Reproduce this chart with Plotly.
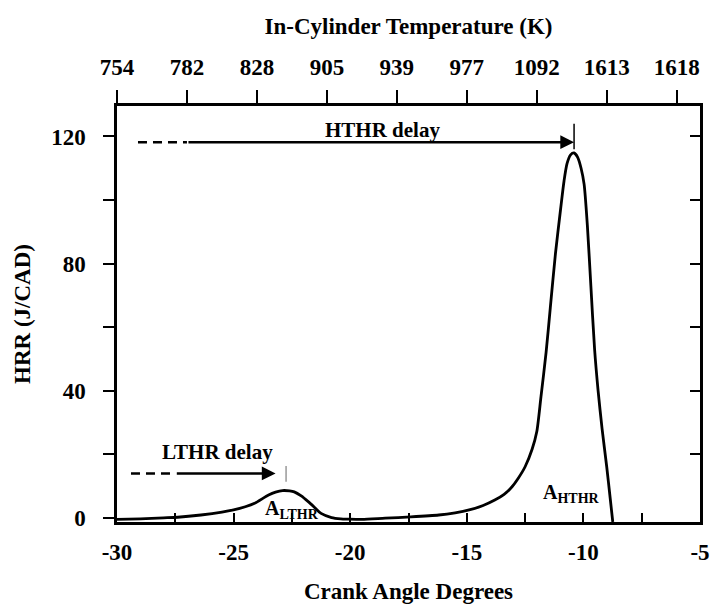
import plotly.graph_objects as go

# Heat release rate curve
cad = [-30, -29, -28, -27.4, -26.4, -25.5, -25, -24.5, -24.1, -23.5, -23.2, -22.9,
       -22.6, -22.4, -22.1, -21.8, -21.5, -21.25, -20.8, -20.4, -20.1, -19.5, -18.5,
       -17.4, -16.2, -15.5, -14.9, -14.3, -13.8, -13.4, -13.06, -12.8, -12.5, -12.2,
       -12.0, -11.82, -11.6, -11.42, -11.2, -10.98, -10.83, -10.7, -10.55, -10.4,
       -10.25, -10.1, -9.97, -9.83, -9.68, -9.52, -9.37, -9.2, -9.0, -8.85, -8.74]
hrr = [-0.6, -0.4, -0.1, 0.1, 0.8, 1.7, 2.4, 3.4, 4.5, 7.1, 8.0, 8.5,
       8.4, 8.1, 6.8, 5.0, 3.0, 1.3, 0.0, -0.4, -0.5, -0.6, -0.2,
       0.2, 0.8, 1.5, 2.4, 3.8, 5.5, 7.3, 9.7, 12.3, 16.0, 21.5,
       27.0, 38.0, 52.0, 66.0, 83.0, 97.0, 106.0, 111.5, 114.2, 114.8,
       113.5, 110.0, 105.0, 92.0, 73.0, 53.0, 40.0, 28.0, 16.0, 6.0, -1.4]

# Bottom axis
x_ticks = [-30, -25, -20, -15, -10, -5]
# Left axis
y_ticks = [0, 40, 80, 120]
y_minor = [0, 20, 40, 60, 80, 100, 120]
# Top axis (in-cylinder temperature)
top_pos = [-30, -27, -24, -21, -18, -15, -12, -9, -6]
top_labels = ["754", "782", "828", "905", "939", "977", "1092", "1613", "1618"]

# Delay markers
hthr_start, hthr_dash_end, hthr_end, hthr_level = -29.1, -27.0, -10.4, 118.2
lthr_start, lthr_dash_end, lthr_end, lthr_level = -29.4, -27.5, -23.2, 13.9
lthr_mark_x = -22.75

FONT = "Liberation Serif"
fig = go.Figure()
fig.add_trace(go.Scatter(x=cad, y=hrr, mode="lines",
                         line=dict(color="black", width=2.8, shape="spline", smoothing=0.7),
                         hoverinfo="skip", showlegend=False))
# invisible traces to activate the overlay axes
fig.add_trace(go.Scatter(x=[cad[0]], y=[hrr[0]], xaxis="x2", yaxis="y", mode="markers",
                         marker=dict(opacity=0), showlegend=False, hoverinfo="skip"))
fig.add_trace(go.Scatter(x=[cad[0]], y=[hrr[0]], xaxis="x", yaxis="y2", mode="markers",
                         marker=dict(opacity=0), showlegend=False, hoverinfo="skip"))

xr = [-30, -5]
yr = [-1.4, 129.6]
tf = dict(family=FONT, size=23, color="black", weight="bold")
ttf = dict(family=FONT, size=23, color="black", weight="bold")

fig.update_layout(
    width=710, height=605,
    margin=dict(l=117, r=10, t=106, b=83, autoexpand=False),
    paper_bgcolor="white", plot_bgcolor="white",
    xaxis=dict(range=xr, tickvals=x_ticks, ticktext=[str(v) for v in x_ticks],
               ticks="inside", ticklen=9, tickwidth=2, tickcolor="black",
               minor=dict(dtick=2.5, tick0=-30, ticks="inside", ticklen=9, tickwidth=2, tickcolor="black"),
               showline=True, linewidth=2.5, linecolor="black", mirror=True,
               showgrid=False, zeroline=False, tickfont=tf, ticklabelstandoff=8,
               automargin=False,
               title=dict(text="Crank Angle Degrees", font=ttf, standoff=19)),
    xaxis2=dict(range=xr, overlaying="x", side="top", tickvals=top_pos, ticktext=top_labels,
                ticks="outside", ticklen=13, tickwidth=2, tickcolor="black",
                showline=True, linewidth=2.5, linecolor="black",
                showgrid=False, zeroline=False, tickfont=tf, ticklabelstandoff=6,
                automargin=False,
                title=dict(text="In-Cylinder Temperature (K)", font=ttf, standoff=14)),
    yaxis=dict(range=yr, tickvals=y_ticks, ticktext=[str(v) for v in y_ticks],
               ticks="outside", ticklen=11, tickwidth=2, tickcolor="black",
               minor=dict(tickvals=y_minor, ticks="outside", ticklen=11, tickwidth=2, tickcolor="black"),
               showline=True, linewidth=2.5, linecolor="black", mirror=True,
               showgrid=False, zeroline=False, tickfont=tf, ticklabelstandoff=13,
               automargin=False,
               title=dict(text="HRR (J/CAD)", font=ttf, standoff=15)),
    yaxis2=dict(range=yr, overlaying="y", side="right", tickvals=y_minor[1:],
                ticks="inside", ticklen=10, tickwidth=2, tickcolor="black",
                showticklabels=False, showline=False, showgrid=False, zeroline=False),
)

# dashed parts of the delay arrows
for xs, xe, yl in [(hthr_start, hthr_dash_end, hthr_level), (lthr_start, lthr_dash_end, lthr_level)]:
    fig.add_shape(type="line", xref="x", yref="y", x0=xs, x1=xe, y0=yl, y1=yl,
                  line=dict(color="black", width=2.5, dash="9px,6px"))
# solid arrows
for xs, xe, yl in [(hthr_dash_end, hthr_end, hthr_level), (lthr_dash_end, lthr_end, lthr_level)]:
    fig.add_annotation(x=xe, y=yl, ax=xs, ay=yl, xref="x", yref="y", axref="x", ayref="y",
                       showarrow=True, arrowhead=2, arrowsize=1.1, arrowwidth=2.5,
                       arrowcolor="black", text="")
# vertical markers
fig.add_shape(type="line", xref="x", yref="y", x0=hthr_end, x1=hthr_end, y0=116.0, y1=124.0,
              line=dict(color="black", width=1.5))
fig.add_shape(type="line", xref="x", yref="y", x0=lthr_mark_x, x1=lthr_mark_x, y0=11.3, y1=16.2,
              line=dict(color="#999999", width=1.5))

af = dict(family=FONT, size=21, color="black", weight="bold")
fig.add_annotation(x=-18.6, y=122.0, xref="x", yref="y", text="HTHR delay", showarrow=False, font=af)
fig.add_annotation(x=-25.7, y=20.5, xref="x", yref="y", text="LTHR delay", showarrow=False, font=af)
fig.add_annotation(x=-23.75, y=2.6, xref="x", yref="y", text="A<sub>LTHR</sub>", showarrow=False,
                   xanchor="left", font=dict(family=FONT, size=20, color="black", weight="bold"))
fig.add_annotation(x=-11.8, y=7.6, xref="x", yref="y", text="A<sub>HTHR</sub>", showarrow=False,
                   xanchor="left", font=dict(family=FONT, size=20, color="black", weight="bold"))

fig.write_html("out.html")
